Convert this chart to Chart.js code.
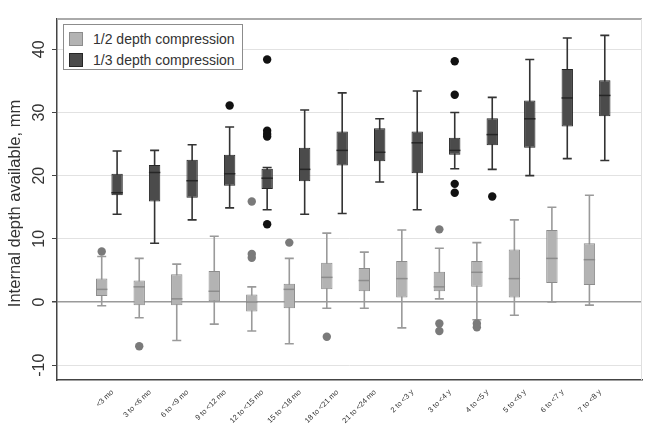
<!DOCTYPE html>
<html lang="en">
<head>
<meta charset="UTF-8" />
<title>Internal depth available by age group</title>
<script src="https://cdn.jsdelivr.net/npm/chart.js"></script>
<style>
  html, body { margin:0; padding:0; background:#fff; }
  .wrap { position:relative; width:646px; height:428px; }
  .legend { position:absolute; left:63px; top:24px; width:180px; height:46px; border:1px solid #8c8c8c; background:#fff;
            font-family:'Liberation Sans', Arial, sans-serif; font-size:14px; color:#333; box-sizing:border-box; padding:3px 0 0 5px; }
  .legend div { height:21px; display:flex; align-items:center; white-space:nowrap; }
  .legend span { display:inline-block; width:14px; height:14px; margin-right:10px; box-sizing:border-box; }
</style>
</head>
<body>
<div class="wrap">
  <canvas id="chart" width="646" height="428"></canvas>
  <div class="legend">
    <div><span style="background:#b3b3b3;border:1px solid #8c8c8c"></span>1/2 depth compression</div>
    <div><span style="background:#4b4b4b;border:1px solid #262626"></span>1/3 depth compression</div>
  </div>
</div>
<script>
  // categories + axis ticks
  const categories = ['<3 mo','3 to <6 mo','6 to <9 mo','9 to <12 mo','12 to <15 mo','15 to <18 mo','18 to <21 mo',
                      '21 to <24 mo','2 to <3 y','3 to <4 y','4 to <5 y','5 to <6 y','6 to <7 y','7 to <8 y'];
  const yTicks = [-10, 0, 10, 20, 30, 40];
  const yTitle = 'Internal depth available, mm';

  // 1/2 depth compression
  const halfMin = [-0.6, -2.5, -6.1, -3.5, -4.6, -6.6, -1.0, -1.0, -4.1, 0.5, -2.8, -2.1, 0.0, -0.5];
  const halfQ1  = [0.95, -0.5, -0.5, 0.0, -1.5, -1.0, 2.0, 1.7, 0.7, 1.7, 2.4, 0.7, 3.0, 2.7];
  const halfMed = [2.0, 2.4, 0.5, 1.7, 0.0, 2.0, 3.9, 3.4, 3.7, 2.4, 4.7, 3.7, 6.9, 6.7];
  const halfQ3  = [3.7, 3.4, 4.4, 4.9, 1.2, 2.9, 6.2, 5.4, 6.5, 4.8, 6.5, 8.3, 11.4, 9.3];
  const halfMax = [7.2, 6.9, 6.0, 10.4, 2.4, 6.9, 10.9, 7.9, 11.4, 8.5, 9.4, 13.0, 15.0, 16.9];
  const halfOut = [[8.0], [-7.0], [], [], [15.9, 7.6, 7.0], [9.4], [-5.5], [], [], [11.5, -3.4, -4.6], [-3.4, -4.0], [], [], []];

  // 1/3 depth compression
  const thirdMin = [13.9, 9.3, 13.0, 14.9, 14.6, 13.9, 14.0, 19.0, 14.6, 21.1, 21.0, 20.0, 22.7, 22.4];
  const thirdQ1  = [16.9, 15.9, 16.5, 18.4, 17.9, 19.1, 21.6, 22.3, 20.4, 23.3, 24.8, 24.4, 27.8, 29.4];
  const thirdMed = [17.3, 20.5, 19.2, 20.3, 19.6, 21.0, 24.0, 23.7, 25.2, 24.0, 26.5, 29.0, 32.3, 32.7];
  const thirdQ3  = [20.3, 21.7, 22.5, 23.3, 21.1, 24.4, 27.0, 27.5, 27.0, 26.0, 29.1, 31.9, 36.9, 35.1];
  const thirdMax = [23.9, 24.0, 24.9, 27.7, 21.3, 30.4, 33.1, 29.0, 33.4, 30.0, 32.4, 38.4, 41.8, 42.2];
  const thirdOut = [[], [], [], [31.1], [38.4, 27.1, 26.6, 26.2, 12.3], [], [], [], [], [38.1, 32.8, 18.7, 17.3], [16.7], [], [], []];

  const series = [
    { label:'1/2 depth compression', min:halfMin, q1:halfQ1, med:halfMed, q3:halfQ3, max:halfMax, out:halfOut,
      fill:'#b3b3b3', border:'#8c8c8c', whisker:'#9a9a9a', dot:'#7a7a7a' },
    { label:'1/3 depth compression', min:thirdMin, q1:thirdQ1, med:thirdMed, q3:thirdQ3, max:thirdMax, out:thirdOut,
      fill:'#4b4b4b', border:'#262626', whisker:'#333333', dot:'#111111' }
  ];

  const FONT = "'Liberation Sans', Arial, sans-serif";

  // whiskers under the boxes, medians + outliers on top, rotated axis text last
  const boxPlot = {
    id: 'boxPlot',
    beforeDatasetsDraw(chart) {
      const ctx = chart.ctx, y = chart.scales.y;
      series.forEach((s, d) => {
        chart.getDatasetMeta(d).data.forEach((bar, i) => {
          const top = y.getPixelForValue(s.max[i]), bot = y.getPixelForValue(s.min[i]);
          ctx.save();
          ctx.strokeStyle = s.whisker; ctx.lineWidth = 1.6;
          ctx.beginPath();
          ctx.moveTo(bar.x, top); ctx.lineTo(bar.x, bot);
          ctx.moveTo(bar.x - 4.5, top); ctx.lineTo(bar.x + 4.5, top);
          ctx.moveTo(bar.x - 4.5, bot); ctx.lineTo(bar.x + 4.5, bot);
          ctx.stroke();
          ctx.restore();
        });
      });
    },
    afterDatasetsDraw(chart) {
      const ctx = chart.ctx, y = chart.scales.y;
      series.forEach((s, d) => {
        chart.getDatasetMeta(d).data.forEach((bar, i) => {
          const m = y.getPixelForValue(s.med[i]);
          ctx.save();
          ctx.strokeStyle = s.border; ctx.lineWidth = 1.5;
          ctx.beginPath();
          ctx.moveTo(bar.x - bar.width / 2, m); ctx.lineTo(bar.x + bar.width / 2, m);
          ctx.stroke();
          ctx.fillStyle = s.dot;
          s.out[i].forEach(v => {
            ctx.beginPath();
            ctx.arc(bar.x, y.getPixelForValue(v), 4.2, 0, Math.PI * 2);
            ctx.fill();
          });
          ctx.restore();
        });
      });
    },
    afterDraw(chart) {
      const {ctx, chartArea: a, scales: {x, y}} = chart;
      ctx.save();
      // frame top + right
      ctx.strokeStyle = '#aaaaaa'; ctx.lineWidth = 2;
      ctx.beginPath(); ctx.moveTo(a.left, a.top); ctx.lineTo(a.right, a.top); ctx.stroke();
      ctx.strokeStyle = '#e0e0e0'; ctx.lineWidth = 1;
      ctx.beginPath(); ctx.moveTo(a.right - 0.5, a.top); ctx.lineTo(a.right - 0.5, a.bottom); ctx.stroke();

      // y tick labels, vertical
      ctx.fillStyle = '#333'; ctx.font = '16px ' + FONT;
      ctx.textAlign = 'center'; ctx.textBaseline = 'middle';
      yTicks.forEach(v => {
        ctx.save();
        ctx.translate(40, y.getPixelForValue(v));
        ctx.rotate(-Math.PI / 2);
        ctx.fillText(String(v), 0, 0);
        ctx.restore();
      });

      // y title
      ctx.font = '16.5px ' + FONT;
      ctx.save();
      ctx.translate(15, (a.top + a.bottom) / 2 + 4);
      ctx.rotate(-Math.PI / 2);
      ctx.fillText(yTitle, 0, 0);
      ctx.restore();

      // category labels at 45 degrees, end anchored near the tick
      ctx.fillStyle = '#333'; ctx.font = '7.5px ' + FONT;
      ctx.textAlign = 'right';
      categories.forEach((c, i) => {
        ctx.save();
        ctx.translate(x.getPixelForValue(i) + 3, a.bottom + 11);
        ctx.rotate(-Math.PI / 4);
        ctx.fillText(c, 0, 0);
        ctx.restore();
      });
      ctx.restore();
    }
  };

  new Chart(document.getElementById('chart'), {
    type: 'bar',
    data: {
      datasets: series.map(s => ({
        label: s.label,
        data: categories.map((c, i) => ({ x: i, y: [s.q1[i], s.q3[i]] })),
        backgroundColor: s.fill,
        borderColor: s.border,
        borderWidth: 1,
        borderSkipped: false,
        categoryPercentage: 0.82,
        barPercentage: 0.74
      }))
    },
    options: {
      responsive: false,
      animation: false,
      devicePixelRatio: 1,
      layout: { padding: { top: 19, right: 4, left: 0, bottom: 0 } },
      plugins: { legend: { display: false }, tooltip: { enabled: false } },
      scales: {
        x: {
          type: 'linear',
          min: -0.84, max: 13.64,
          afterBuildTicks: s => { s.ticks = categories.map((c, i) => ({ value: i })); },
          afterFit: s => { s.height = 48; },
          grid: { display: false, drawTicks: false },
          border: { color: '#444', width: 1.5 },
          ticks: { display: false }
        },
        y: {
          min: -12.35, max: 44.8,
          afterBuildTicks: s => { s.ticks = yTicks.map(v => ({ value: v })); },
          afterFit: s => { s.width = 57; },
          grid: {
            color: c => c.tick && c.tick.value === 0 ? '#9a9a9a' : '#e2e2e2',
            lineWidth: c => c.tick && c.tick.value === 0 ? 1.5 : 1,
            tickColor: '#444', tickLength: 5
          },
          border: { color: '#444', width: 1.5 },
          ticks: { display: false }
        }
      }
    },
    plugins: [boxPlot]
  });
</script>
</body>
</html>
